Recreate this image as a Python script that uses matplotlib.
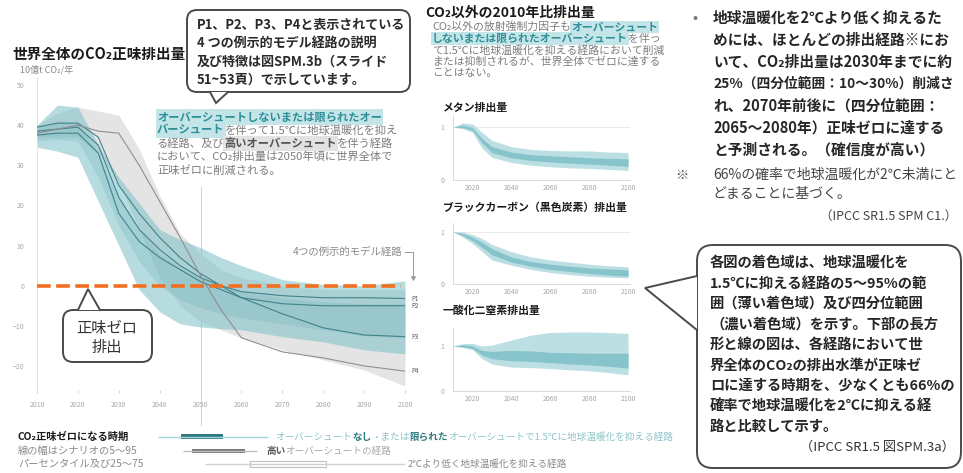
import matplotlib
matplotlib.use('Agg')
import matplotlib.pyplot as plt
from matplotlib.patches import FancyBboxPatch, Polygon

plt.rcParams['font.family'] = ['Noto Sans CJK JP', 'DejaVu Sans']

# 世界全体のCO2正味排出量 (10億t CO2/年)
years = [2010, 2015, 2020, 2025, 2030, 2035, 2040, 2045, 2050, 2055, 2060, 2070, 2080, 2090, 2100]
teal_hi = [40, 45, 44.5, 35, 27, 20.5, 14, 11.5, 9.5, 7, 5, 1.5, 0.3, 0, 1.2]
teal_lo = [34.5, 33.5, 32, 21, 10, -1, -6.5, -9.5, -10.3, -10.7, -11, -12.7, -14, -16, -17]
teal_q3 = [39.5, 41, 40.5, 33, 22, 14, 8, 4.5, 2, 0, -1.5, -3, -4, -4.5, -4.5]
teal_q1 = [36, 36.5, 36, 27, 15, 6, 0, -3.5, -5.5, -7, -8, -9.5, -11, -12.5, -13]
gray_hi = [40, 43, 44.5, 43.5, 42.5, 34, 22.5, 13, 8, 4, 2, 0, -1, -1, -1]
gray_lo = [37, 37, 37, 33, 26, 14, 2, -5, -9, -11, -13, -16, -18.5, -21, -25]
p1 = [38.5, 39, 39.5, 35, 22, 14, 9, 5, 2, 0, -1.5, -2.5, -3, -3, -3.2]
p2 = [37.5, 38, 38, 33, 18, 11, 7, 4, 1, -1, -3, -4.5, -5, -5, -5]
p3 = [39.5, 40.5, 40.5, 37, 25, 18, 12, 7, 3, 0, -3, -7, -10.5, -12.3, -12.7]
p4 = [38, 39, 40, 38.5, 38, 30, 21, 12, 2.5, -6, -13, -16.5, -18, -20, -21.3]
path_names = ['P1', 'P2', 'P3', 'P4']

# CO2以外の2010年比排出量
years_s = [2010, 2015, 2020, 2025, 2030, 2040, 2050, 2060, 2070, 2080, 2090, 2100]
ch4_hi = [1.0, 1.08, 1.06, 0.9, 0.75, 0.63, 0.58, 0.56, 0.55, 0.55, 0.53, 0.52]
ch4_lo = [1.0, 0.97, 0.9, 0.6, 0.43, 0.33, 0.28, 0.25, 0.23, 0.22, 0.2, 0.18]
ch4_q3 = [1.0, 1.04, 0.99, 0.78, 0.63, 0.53, 0.48, 0.46, 0.44, 0.42, 0.41, 0.4]
ch4_q1 = [1.0, 0.99, 0.94, 0.7, 0.52, 0.42, 0.37, 0.34, 0.32, 0.3, 0.28, 0.26]
bc_hi = [1.0, 1.0, 0.95, 0.87, 0.76, 0.62, 0.52, 0.46, 0.42, 0.38, 0.35, 0.33]
bc_lo = [1.0, 0.9, 0.78, 0.62, 0.46, 0.36, 0.28, 0.22, 0.18, 0.15, 0.13, 0.12]
bc_q3 = [1.0, 0.97, 0.9, 0.8, 0.68, 0.52, 0.43, 0.38, 0.34, 0.31, 0.29, 0.27]
bc_q1 = [1.0, 0.93, 0.83, 0.7, 0.56, 0.42, 0.34, 0.28, 0.24, 0.2, 0.17, 0.15]
n2o_hi = [1.0, 1.05, 1.06, 1.0, 1.02, 1.13, 1.24, 1.3, 1.31, 1.31, 1.3, 1.28]
n2o_lo = [1.0, 0.97, 0.92, 0.72, 0.6, 0.53, 0.52, 0.5, 0.47, 0.45, 0.41, 0.36]
n2o_q3 = [1.0, 1.03, 1.0, 0.9, 0.88, 0.9, 0.89, 0.86, 0.85, 0.84, 0.84, 0.84]
n2o_q1 = [1.0, 0.98, 0.94, 0.8, 0.72, 0.67, 0.66, 0.63, 0.6, 0.58, 0.55, 0.51]

# CO2正味ゼロになる時期 (5-95 / 25-75 パーセンタイル)
nz_p5 = [2039.6, 2045.7, 2051.1]
nz_p25 = [2045.2, 2047.9, 2062.1]
nz_p75 = [2055.5, 2060.9, 2080.7]
nz_p95 = [2066.5, 2063.8, 2100]

W, H = 963, 473
fig = plt.figure(figsize=(W / 100, H / 100), dpi=100)
fig.patch.set_facecolor('white')


def px_axes(x0, y0, x1, y1, **kw):
    return fig.add_axes([x0 / W, 1 - y1 / H, (x1 - x0) / W, (y1 - y0) / H], **kw)


TEAL = '#2f8f98'
HL = '#c3e5e8'
GRAY = '#7d7d7d'
TICK = '#a8a8a8'

# ---------------- main chart ----------------
ax = px_axes(37, 77, 405, 390)
ax.fill_between(years, gray_lo, gray_hi, color='#e4e4e4', lw=0, zorder=1)
ax.fill_between(years, teal_lo, teal_hi, color='#7cc0c7', alpha=0.55, lw=0, zorder=2)
ax.fill_between(years, teal_q1, teal_q3, color='#5aa9b1', alpha=0.22, lw=0, zorder=3)
for name, vals in zip(path_names, [p1, p2, p3, p4]):
    col = '#8f8f8f' if name == 'P4' else '#41838a'
    ax.plot(years, vals, color=col, lw=0.8, zorder=4)
    ax.text(2101.5, vals[-1], name, fontsize=4.5, color='#555555', va='center', ha='left', clip_on=False)
ax.axhline(0, xmin=0, xmax=0.99, color='#f26f21', lw=2.6, dashes=(3.8, 1.5), zorder=6)
ax.plot([2050, 2050], [-34.7, 24.6], color='#d2d2d2', lw=0.7, zorder=0.5, clip_on=False)
ax.set_xlim(2010, 2100)
ax.set_ylim(-26, 52)
ax.set_xticks(range(2010, 2101, 10))
ax.set_yticks(range(-20, 51, 10))
ax.tick_params(axis='x', length=2, pad=6, labelsize=5, colors=TICK, color='#d5d5d5')
ax.tick_params(axis='y', length=0, pad=9, labelsize=5, colors=TICK)
for s in ['top', 'right', 'bottom']:
    ax.spines[s].set_visible(False)
ax.spines['left'].set_color('#dddddd')
ax.spines['left'].set_linewidth(0.6)

# ---------------- net-zero timing rows ----------------
axn = px_axes(37, 428, 405, 472)
axn.set_xlim(2010, 2100)
axn.set_ylim(472, 428)
axn.axis('off')
row_y = [437, 451, 464]
line_cols = ['#a3d3d8', '#bdbdbd', '#cfcfcf']
axn.hlines(row_y, nz_p5, nz_p95, colors=line_cols, lw=1.0)
axn.barh(row_y[0], nz_p75[0] - nz_p25[0], left=nz_p25[0], height=5, color='#2f7a80')
axn.barh(row_y[1], nz_p75[1] - nz_p25[1], left=nz_p25[1], height=4.5, color='#7a7a7a')
axn.barh(row_y[2], nz_p75[2] - nz_p25[2], left=nz_p25[2], height=6.5, color='white',
         edgecolor='#c0c0c0', lw=0.8)

# ---------------- small panels ----------------
panels = [
    ((453, 115, 630, 180), 1.23, ch4_lo, ch4_hi, ch4_q1, ch4_q3),
    ((453, 223, 630, 284), 1.17, bc_lo, bc_hi, bc_q1, bc_q3),
    ((453, 328, 630, 391), 1.40, n2o_lo, n2o_hi, n2o_q1, n2o_q3),
]
for box, ytop, lo, hi, q1, q3 in panels:
    a = px_axes(*box)
    a.fill_between(years_s, lo, hi, color='#bbdfe3', lw=0, zorder=2)
    a.fill_between(years_s, q1, q3, color='#86c3ca', lw=0, zorder=3)
    a.axhline(1, color='#e6e6e6', lw=0.6, zorder=1)
    a.set_xlim(2010, 2101)
    a.set_ylim(0, ytop)
    a.set_xticks(range(2020, 2101, 20))
    a.set_yticks([0, 1])
    a.tick_params(axis='x', length=0, pad=3, labelsize=5, colors=TICK)
    a.tick_params(axis='y', length=0, pad=6, labelsize=5, colors=TICK)
    for s in ['top', 'right']:
        a.spines[s].set_visible(False)
    for s in ['left', 'bottom']:
        a.spines[s].set_color('#d5d5d5')
        a.spines[s].set_linewidth(0.6)

# ---------------- overlay (pixel coordinates) ----------------
ov = fig.add_axes([0, 0, 1, 1], zorder=10)
ov.set_xlim(0, W)
ov.set_ylim(H, 0)
ov.axis('off')
ov.patch.set_alpha(0)
renderer = fig.canvas.get_renderer()


def run(x, y, parts, size):
    for s, col, bg, wt in parts:
        t = ov.text(x, y, s, fontsize=size, color=col, fontweight=wt, va='center', ha='left',
                    bbox=dict(fc=bg, ec='none', pad=0.8) if bg else None)
        x += t.get_window_extent(renderer).width


def callout(x0, y0, x1, y1, tip, base, r=10, lw=1.4):
    ov.add_patch(FancyBboxPatch((x0, y0), x1 - x0, y1 - y0,
                                boxstyle='round,pad=0,rounding_size=%d' % r,
                                fc='white', ec='#4a4a4a', lw=lw, zorder=2))
    ov.add_patch(Polygon([base[0], tip, base[1]], closed=True, fc='white', ec='none', zorder=3))
    ov.plot([base[0][0], tip[0], base[1][0]], [base[0][1], tip[1], base[1][1]],
            color='#4a4a4a', lw=lw, zorder=4, solid_joinstyle='miter')


# titles
ov.text(12, 54, '世界全体のCO₂正味排出量', fontsize=10.5, fontweight='bold', color='#1a1a1a', va='center')
ov.text(20, 70, '10億t CO₂/年', fontsize=6.5, color='#8a8a8a', va='center')

# top callout
callout(187, 10, 410, 92, (216, 103), [(210, 92), (228, 92)])
for i, s in enumerate(['P1、P2、P3、P4と表示されている', '4 つの例示的モデル経路の説明',
                       '及び特徴は図SPM.3b（スライド', '51~53頁）で示しています。']):
    ov.text(197, 24.5 + 18.5 * i, s, fontsize=9.4, fontweight='bold', color='#2a2a2a', va='center', zorder=5)

# highlighted paragraph in main chart
para = [
    [('オーバーシュートしないまたは限られたオー', TEAL, HL, 'bold')],
    [('バーシュート', TEAL, HL, 'bold'), ('を伴って1.5℃に地球温暖化を抑え', GRAY, None, 'normal')],
    [('る経路、及び', GRAY, None, 'normal'), ('高いオーバーシュート', '#555555', '#e2e2e2', 'bold'),
     ('を伴う経路', GRAY, None, 'normal')],
    [('において、CO₂排出量は2050年頃に世界全体で', GRAY, None, 'normal')],
    [('正味ゼロに削減される。', GRAY, None, 'normal')],
]
for i, parts in enumerate(para):
    run(157, 117 + 13.3 * i, parts, 8.1)

# net-zero callout
callout(63, 310, 152, 362, (88, 289), [(78, 310), (100, 310)])
ov.text(107, 328, '正味ゼロ', fontsize=11, color='#333333', ha='center', va='center', zorder=5)
ov.text(107, 347, '排出', fontsize=11, color='#333333', ha='center', va='center', zorder=5)

# illustrative pathways bracket
ov.text(402, 252, '4つの例示的モデル経路', fontsize=7.5, color='#8a8a8a', ha='right', va='center')
ov.plot([405, 413, 413], [252, 252, 277], color='#9a9a9a', lw=0.7)
ov.plot([413], [278], marker='v', ms=2.5, color='#9a9a9a')

# net-zero row labels
ov.text(18, 437, 'CO₂正味ゼロになる時期', fontsize=7.4, fontweight='bold', color='#1a1a1a', va='center')
ov.text(18, 451, '線の幅はシナリオの5～95', fontsize=7.4, color='#8a8a8a', va='center')
ov.text(18, 464, 'パーセンタイル及び25～75', fontsize=7.4, color='#8a8a8a', va='center')
run(275, 437, [('オーバーシュート', '#8cc3c9', None, 'normal'), ('なし', '#2f7a80', None, 'bold'),
               ('・または', '#8cc3c9', None, 'normal'), ('限られた', '#2f7a80', None, 'bold'),
               ('オーバーシュートで1.5℃に地球温暖化を抑える経路', '#8cc3c9', None, 'normal')], 6.9)
run(266, 451, [('高い', '#555555', None, 'bold'), ('オーバーシュートの経路', '#a8a8a8', None, 'normal')], 6.9)
run(408, 464, [('2℃より低く地球温暖化を抑える経路', '#8a8a8a', None, 'normal')], 6.9)

# right small panels texts
ov.text(425, 13, 'CO₂以外の2010年比排出量', fontsize=10, fontweight='bold', color='#1a1a1a', va='center')
para2 = [
    [('CO₂以外の放射強制力因子も', GRAY, None, 'normal'), ('オーバーシュート', TEAL, HL, 'bold')],
    [('しないまたは限られたオーバーシュート', TEAL, HL, 'bold'), ('を伴っ', GRAY, None, 'normal')],
    [('て1.5℃に地球温暖化を抑える経路において削減', GRAY, None, 'normal')],
    [('または抑制されるが、世界全体でゼロに達する', GRAY, None, 'normal')],
    [('ことはない。', GRAY, None, 'normal')],
]
for i, parts in enumerate(para2):
    run(432, 27 + 11.5 * i, parts, 7.8)
ov.text(443, 108, 'メタン排出量', fontsize=7.8, fontweight='bold', color='#1a1a1a', va='center')
ov.text(443, 208, 'ブラックカーボン（黒色炭素）排出量', fontsize=7.8, fontweight='bold', color='#1a1a1a', va='center')
ov.text(443, 311, '一酸化二窒素排出量', fontsize=7.8, fontweight='bold', color='#1a1a1a', va='center')

# right column text
ov.text(695, 18, '•', fontsize=11, color='#777777', ha='center', va='center')
right_lines = ['地球温暖化を2℃より低く抑えるた', 'めには、ほとんどの排出経路※にお',
               'いて、CO₂排出量は2030年までに約', '25%（四分位範囲：10～30%）削減さ',
               'れ、2070年前後に（四分位範囲：', '2065～2080年）正味ゼロに達する',
               'と予測される。（確信度が高い）']
right_sizes = [10.6, 10.6, 10.6, 9.9, 10.6, 10.6, 10.6]
for i, s in enumerate(right_lines):
    ov.text(713, 18 + 22 * i, s, fontsize=right_sizes[i], fontweight='bold', color='#262626', va='center')
ov.text(675, 175, '※', fontsize=9.5, color='#444444', va='center')
ov.text(713, 175, '66%の確率で地球温暖化が2℃未満にと', fontsize=10, color='#444444', va='center')
ov.text(713, 194, 'どまることに基づく。', fontsize=10, color='#444444', va='center')
ov.text(957, 216, '（IPCC SR1.5 SPM C1.）', fontsize=9, color='#444444', ha='right', va='center')

# bottom-right callout
callout(697, 245, 961, 468, (645, 288), [(697, 276), (697, 330)], r=16)
box_lines = ['各図の着色域は、地球温暖化を', '1.5℃に抑える経路の5～95%の範',
             '囲（薄い着色域）及び四分位範囲', '（濃い着色域）を示す。下部の長方',
             '形と線の図は、各経路において世', '界全体のCO₂の排出水準が正味ゼ',
             'ロに達する時期を、少なくとも66%の', '確率で地球温暖化を2℃に抑える経',
             '路と比較して示す。']
for i, s in enumerate(box_lines):
    ov.text(710, 263 + 20.5 * i, s, fontsize=10.3, fontweight='bold', color='#262626', va='center', zorder=5)
ov.text(955, 447, '（IPCC SR1.5 図SPM.3a）', fontsize=9.5, color='#333333', ha='right', va='center', zorder=5)

fig.savefig('out.png', dpi=100)
